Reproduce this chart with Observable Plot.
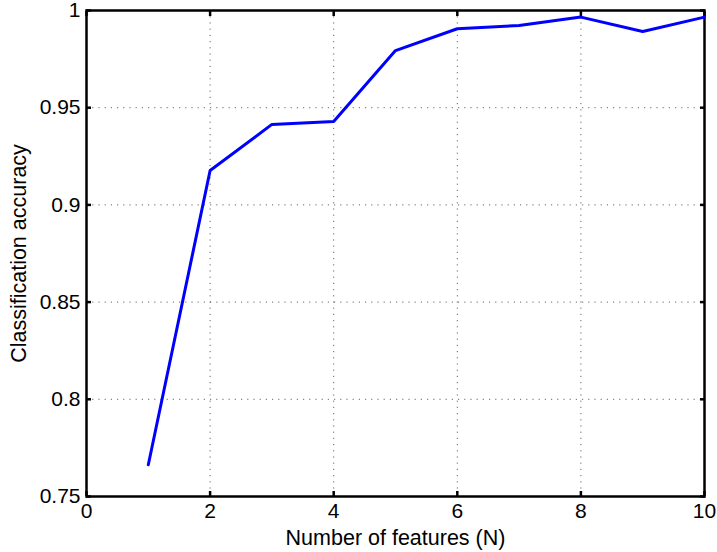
<!DOCTYPE html>
<html>
<head>
<meta charset="utf-8">
<script src="https://cdn.jsdelivr.net/npm/d3@7"></script>
<script src="https://cdn.jsdelivr.net/npm/@observablehq/plot@0.6"></script>
<style>
  html, body { margin: 0; padding: 0; background: #fff; }
  svg { display: block; }
</style>
</head>
<body>
<div id="chart"></div>
<script>
const features = [1, 2, 3, 4, 5, 6, 7, 8, 9, 10];
const accuracy = [0.7663, 0.9177, 0.9414, 0.9429, 0.9794, 0.9906, 0.9923, 0.9966, 0.9892, 0.9966];
const xTicks = [0, 2, 4, 6, 8, 10];
const yTicks = [0.75, 0.8, 0.85, 0.9, 0.95, 1];
const yTickLabels = ["0.75", "0.8", "0.85", "0.9", "0.95", "1"];
const xLabel = "Number of features (N)";
const yLabel = "Classification accuracy";

const data = features.map((f, i) => ({x: f, y: accuracy[i]}));
const tickLen = 5;
const font = "'Liberation Sans', Arial, Helvetica, sans-serif";

const chart = Plot.plot({
  width: 717,
  height: 552,
  marginLeft: 86,
  marginRight: 13,
  marginTop: 10,
  marginBottom: 56,
  style: {fontFamily: font, fontSize: "21px", color: "#000", background: "#fff"},
  x: {domain: [0, 10]},
  y: {domain: [0.75, 1]},
  marks: [
    Plot.gridX(xTicks.slice(1, -1), {stroke: "#000", strokeOpacity: 0.6, strokeWidth: 1, strokeDasharray: "1.2,5"}),
    Plot.gridY(yTicks.slice(1, -1), {stroke: "#000", strokeOpacity: 0.6, strokeWidth: 1, strokeDasharray: "1.2,5"}),
    // inward ticks on all four sides
    Plot.axisX(xTicks, {anchor: "bottom", tickSize: tickLen, dy: -tickLen, text: null, strokeWidth: 2.5, label: null}),
    Plot.axisX(xTicks, {anchor: "top", tickSize: tickLen, dy: tickLen, text: null, strokeWidth: 2.5, label: null}),
    Plot.axisY(yTicks, {anchor: "left", tickSize: tickLen, dx: tickLen, text: null, strokeWidth: 2.5, label: null}),
    Plot.axisY(yTicks, {anchor: "right", tickSize: tickLen, dx: -tickLen, text: null, strokeWidth: 2.5, label: null}),
    // tick labels
    Plot.axisX(xTicks, {anchor: "bottom", tickSize: 0, tickPadding: 7, fontSize: 21, label: null}),
    Plot.axisY(yTicks, {anchor: "left", tickSize: 0, tickPadding: 6, fontSize: 21, tickFormat: (d, i) => yTickLabels[i], label: null}),
    // axis titles
    Plot.axisX(xTicks, {anchor: "bottom", tickSize: 0, text: null, fontSize: 21.5, label: xLabel, labelAnchor: "center", labelOffset: 48, labelArrow: "none"}),
    Plot.axisY(yTicks, {anchor: "left", tickSize: 0, text: null, fontSize: 21.5, label: yLabel, labelAnchor: "center", labelOffset: 76, labelArrow: "none"}),
    Plot.frame({stroke: "#000", strokeWidth: 2.5}),
    Plot.line(data, {x: "x", y: "y", stroke: "#0000ff", strokeWidth: 3})
  ]
});
document.getElementById("chart").appendChild(chart);
</script>
</body>
</html>
